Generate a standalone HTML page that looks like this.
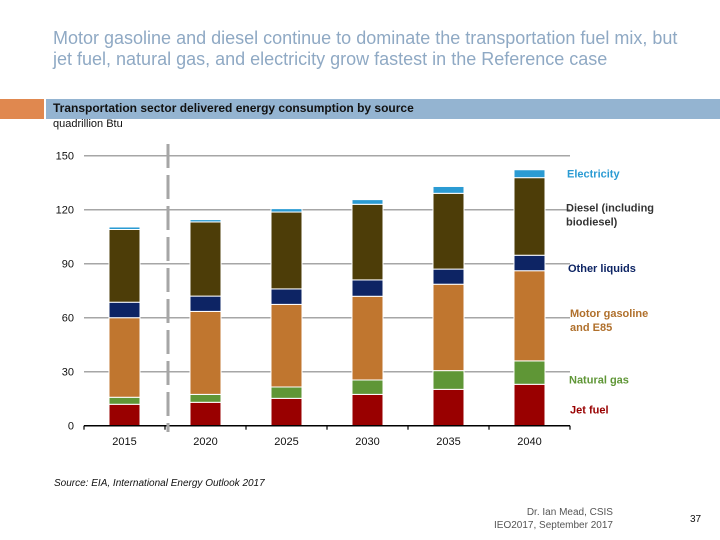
<!DOCTYPE html>
<html><head><meta charset="utf-8"><style>
body{margin:0;width:720px;height:540px;background:#fff;font-family:"Liberation Sans",sans-serif;position:relative;overflow:hidden}
.t{position:absolute;white-space:nowrap}
</style></head><body>
<div class="t" style="left:53px;top:28px;font-size:18px;line-height:21px;color:#8fa9c4">Motor gasoline and diesel continue to dominate the transportation fuel mix, but<br>jet fuel, natural gas, and electricity grow fastest in the Reference case</div>
<div style="position:absolute;left:0;top:99px;width:44px;height:20px;background:#e0884f"></div>
<div style="position:absolute;left:46px;top:99px;width:674px;height:20px;background:#94b4d1"></div>
<div class="t" style="left:53px;top:101px;font-size:12px;font-weight:bold;color:#111">Transportation sector delivered energy consumption by source</div>
<div class="t" style="left:53px;top:118px;font-size:11px;color:#111">quadrillion Btu</div>
<svg id="chart" width="720" height="540" style="position:absolute;left:0;top:0"></svg>
<div class="t" style="left:54px;top:478px;font-size:10px;font-style:italic;color:#111">Source: EIA, International Energy Outlook 2017</div>
<div class="t" style="left:494px;top:506px;font-size:10px;line-height:13px;color:#555;text-align:right">Dr. Ian Mead, CSIS<br>IEO2017, September 2017</div>
<div class="t" style="left:690px;top:514px;font-size:10px;color:#111">37</div>
<script>
const years=["2015","2020","2025","2030","2035","2040"];
const jetFuel=[11.9,13,15.2,17.4,20.2,23];
const naturalGas=[3.9,4.4,6.3,8,10.4,13];
const motorGasoline=[44.2,46.1,45.9,46.5,48,50.1];
const otherLiquids=[8.6,8.5,8.6,9.1,8.4,8.6];
const diesel=[40.4,41.2,42.7,42,42.1,43.1];
const electricity=[1.4,1.3,1.9,2.6,3.8,4.4];
const yTicks=[0,30,60,90,120,150];
const seriesNames=["Jet fuel","Natural gas","Motor gasoline and E85","Other liquids","Diesel (including biodiesel)","Electricity"];
const NS="http://www.w3.org/2000/svg";
const svg=document.getElementById('chart');
const x0=84,x1=570,y0=425.7,ppu=1.8,step=81;
const y=v=>y0-v*ppu;
const xc=i=>x0+40.5+i*step;
function mk(tag,attrs){const e=document.createElementNS(NS,tag);for(const k in attrs)e.setAttribute(k,attrs[k]);svg.appendChild(e);return e;}
yTicks.forEach(t=>{
  if(t>0){const g=mk('line',{x1:x0,x2:x1,y1:y(t),y2:y(t),stroke:'#a6a6a6','stroke-width':1.5});
  
  }
  const l=mk('text',{x:74,y:y(t)+4,'text-anchor':'end','font-size':11,fill:'#111'});
  l.textContent=t;
  
  
});
const colors=['#990000','#5f9636','#c0762f','#0d2464','#4d3d08','#2b9bd3'];
const series=[jetFuel,naturalGas,motorGasoline,otherLiquids,diesel,electricity];
years.forEach((yr,i)=>{
  let base=0;
  series.forEach((s,k)=>{
    const r=mk('rect',{x:xc(i)-15.5,width:31,y:y(base+s[i]),height:s[i]*ppu,fill:colors[k],stroke:'#fff','stroke-width':1});
    
    
    base+=s[i];
  });
  const l=mk('text',{x:xc(i),y:445,'text-anchor':'middle','font-size':11,fill:'#111'});
  l.textContent=yr;
  
  
});
const ax=mk('line',{x1:x0,x2:x1,y1:y0,y2:y0,stroke:'#000','stroke-width':1.5});


for(let i=0;i<=6;i++){const tk=mk('line',{x1:x0+i*step,x2:x0+i*step,y1:y0,y2:y0+4,stroke:'#000','stroke-width':1.2});

}
const dv=mk('line',{x1:168,x2:168,y1:144,y2:432,stroke:'#a6a6a6','stroke-width':3,'stroke-dasharray':'24,7'});


const last=years.length-1;
let cum=[];let b=0;series.forEach(s=>{cum.push([b,b+s[last]]);b+=s[last];});
const lab=[[570,y(0)-12,["Jet fuel"],'#990000'],[569,y((cum[1][0]+cum[1][1])/2)+11,["Natural gas"],'#5f9636'],[570,y((cum[2][0]+cum[2][1])/2)+1,["Motor gasoline","and E85"],'#b0702c'],[568,y((cum[3][0]+cum[3][1])/2)+9,["Other liquids"],'#0d2464'],[566,y((cum[4][0]+cum[4][1])/2)-5,["Diesel (including","biodiesel)"],'#333'],[567,y(cum[5][1])+8,["Electricity"],'#2b9bd3']];
lab.forEach((L,k)=>{
  L[2].forEach((s,j)=>{const t=mk('text',{x:L[0],y:L[1]+j*14,'font-size':11,'font-weight':'bold',fill:L[3]});
  t.textContent=s;
  
  });
});
</script>
</body></html>
